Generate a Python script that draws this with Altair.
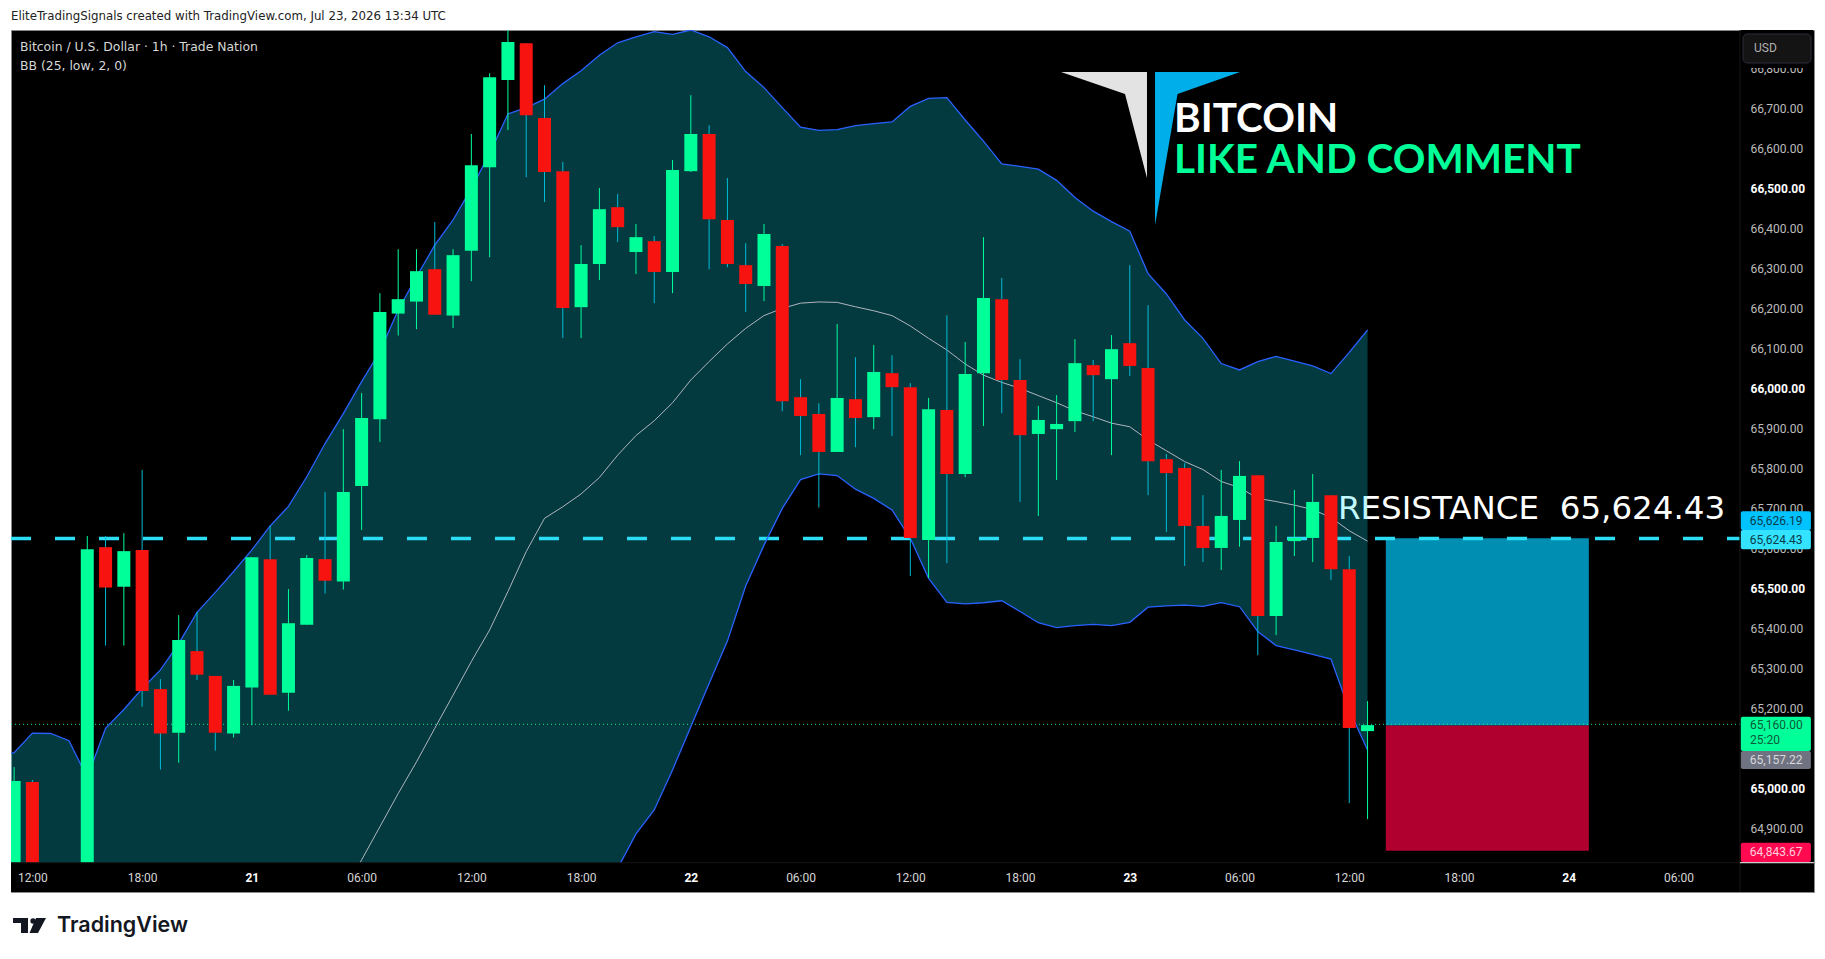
import altair as alt
import pandas as pd

# hours counted from Jul 20 12:00
hours = [-1, 0] + list(range(3, 74))
opens = [64600, 65016, 64520, 65603, 65504, 65596, 65248, 65139, 65343, 65281,
         65137, 65252, 65573, 65239, 65409, 65573, 65517, 65756, 65923, 66187,
         66217, 66298, 66182, 66344, 66553, 66771, 66863, 66676, 66543, 66203,
         66311, 66453, 66341, 66368, 66291, 66543, 66636, 66421, 66308, 66256,
         66356, 65978, 65936, 65841, 65973, 65928, 66038, 66003, 65621, 65946,
         65786, 66038, 66223, 66021, 65886, 65898, 65918, 66058, 66023, 66113,
         66051, 65823, 65801, 65656, 65601, 65671, 65783, 65431, 65618, 65626,
         65733, 65548, 65143]
highs = [65053, 65021, 65631, 65631, 65638, 65796, 65273, 65433, 65441, 65281,
         65271, 65578, 65656, 65498, 65583, 65741, 65898, 65988, 66238, 66348,
         66348, 66416, 66348, 66636, 66788, 66900, 66863, 66758, 66566, 66358,
         66501, 66486, 66411, 66381, 66571, 66733, 66658, 66526, 66363, 66411,
         66361, 66023, 65963, 66161, 66078, 66108, 66083, 66013, 65976, 66183,
         66116, 66378, 66276, 66073, 65956, 65983, 66123, 66071, 66133, 66308,
         66208, 65836, 65813, 65733, 65796, 65818, 65783, 65656, 65746, 65786,
         65733, 65581, 65218]
lows = [64550, 64450, 64480, 65357, 65357, 65204, 65047, 65064, 65271, 65094,
        65127, 65158, 65234, 65194, 65409, 65487, 65497, 65646, 65866, 66132,
        66148, 66184, 66151, 66268, 66328, 66646, 66528, 66466, 66126, 66126,
        66271, 66366, 66286, 66213, 66238, 66541, 66298, 66303, 66191, 66218,
        65943, 65833, 65702, 65841, 65853, 65898, 65881, 65531, 65526, 65563,
        65778, 65906, 65938, 65716, 65681, 65771, 65891, 65918, 65833, 66031,
        65733, 65641, 65556, 65566, 65546, 65604, 65333, 65383, 65581, 65566,
        65521, 64963, 64923]
closes = [65018, 64500, 65598, 65502, 65593, 65243, 65137, 65371, 65284, 65139,
          65256, 65578, 65234, 65413, 65576, 65519, 65741, 65926, 66191, 66223,
          66293, 66184, 66333, 66558, 66778, 66866, 66683, 66541, 66201, 66311,
          66448, 66403, 66378, 66291, 66546, 66636, 66423, 66311, 66261, 66386,
          65968, 65931, 65841, 65976, 65926, 66041, 66003, 65626, 65948, 65786,
          66036, 66226, 66021, 65883, 65921, 65911, 66063, 66033, 66098, 66056,
          65818, 65788, 65656, 65601, 65681, 65781, 65431, 65616, 65626, 65716,
          65548, 65151, 65158]

# Bollinger bands, hour -2 to 73 (lower is below the chart until hour 32)
bb_hours = list(range(-2, 74))
bb_upper = [65079, 65089, 65138, 65137, 65119, 65027, 65150, 65197, 65249, 65296,
            65362, 65440, 65490, 65542, 65596, 65656, 65705, 65779, 65862, 65937,
            66017, 66092, 66196, 66279, 66358, 66421, 66500, 66587, 66686, 66702,
            66723, 66762, 66794, 66833, 66864, 66879, 66892, 66885, 66896, 66879,
            66852, 66792, 66752, 66702, 66653, 66645, 66647, 66657, 66662, 66666,
            66705, 66725, 66727, 66671, 66618, 66561, 66555, 66548, 66520, 66477,
            66443, 66417, 66393, 66287, 66236, 66171, 66125, 66062, 66046, 66067,
            66080, 66068, 66056, 66037, 66090, 66146]
bb_lower = [64500, 64500, 64500, 64500, 64500, 64500, 64500, 64500, 64500, 64500,
            64500, 64500, 64500, 64500, 64500, 64500, 64500, 64500, 64500, 64500,
            64500, 64500, 64500, 64500, 64500, 64500, 64500, 64500, 64500, 64500,
            64500, 64500, 64604, 64729, 64800, 64886, 64946, 65046, 65154, 65262,
            65368, 65506, 65608, 65700, 65772, 65786, 65782, 65748, 65725, 65696,
            65625, 65525, 65465, 65461, 65464, 65469, 65442, 65414, 65402, 65407,
            65410, 65407, 65415, 65453, 65456, 65458, 65455, 65464, 65454, 65392,
            65357, 65346, 65335, 65323, 65196, 65096]
basis_hours = list(range(17, 74))
bb_basis = [64737, 64821, 64904, 64987, 65066, 65150, 65233, 65317, 65396, 65492,
            65592, 65675, 65704, 65736, 65777, 65833, 65882, 65919, 65964, 66021,
            66067, 66111, 66150, 66182, 66200, 66213, 66216, 66215, 66204, 66194,
            66182, 66156, 66125, 66096, 66061, 66033, 66015, 66000, 65982, 65964,
            65944, 65929, 65913, 65904, 65871, 65844, 65817, 65797, 65767, 65752,
            65725, 65717, 65708, 65697, 65677, 65644, 65618]

resistance = 65624.43
last_price = 65160
entry = 65157.22
stop = 64843.67
box_start, box_end = 74, 85.1

price_ticks = [64900, 65000, 65200, 65300, 65400, 65500, 65600, 65700, 65800,
               65900, 66000, 66100, 66200, 66300, 66400, 66500, 66600, 66700, 66800]
time_ticks = [0, 6, 12, 18, 24, 30, 36, 42, 48, 54, 60, 66, 72, 78, 84, 90]
time_labels = ["12:00", "18:00", "21", "06:00", "12:00", "18:00", "22", "06:00",
               "12:00", "18:00", "23", "06:00", "12:00", "18:00", "24", "06:00"]

# price scale tags: label, bottom, top, fill, text colour
tag_labels = ["65,626.19", "65,624.43", "65,157.22", "64,843.67"]
tag_bottoms = [65646, 65598, 65048, 64816]
tag_tops = [65693, 65646, 65093, 64864]
tag_fills = ["#00C3FF", "#33E3FF", "#6F7280", "#FF0A50"]
tag_text = ["#0B3B4A", "#0B3B4A", "#D8D8DC", "#FFD0DC"]

# full frame runs from these hour / price limits
x_min, x_max = -1.17, 97.41
y_min, y_max = 64740.75, 66896
x_axis_edge = 93.36
y_axis_edge = 64814

GREEN = "#00FF99"
RED = "#F7130F"
FONT = "Roboto"
TEXT_FONT = "DejaVu Sans"

candles = pd.DataFrame({"h": hours, "o": opens, "hi": highs, "lo": lows, "c": closes})
candles["body"] = [GREEN if c >= o else RED for o, c in zip(opens, closes)]
candles["wick"] = [GREEN if c >= o else "#00BCD4" for o, c in zip(opens, closes)]
bands = pd.DataFrame({"h": bb_hours, "up": bb_upper, "low": bb_lower})
basis = pd.DataFrame({"h": basis_hours, "mid": bb_basis})
tags = pd.DataFrame({"t": tag_labels, "lo": tag_bottoms, "hi": tag_tops,
                     "fill": tag_fills, "ink": tag_text})
tags["mid"] = (tags["lo"] + tags["hi"]) / 2
tags["x1"] = 93.41
tags["x2"] = 97.24
tags["tx"] = 93.9

# padding=0: bars would otherwise inset the continuous x range
x_scale = alt.Scale(domain=[x_min, x_max], nice=False, zero=False, padding=0)
y_scale = alt.Scale(domain=[y_min, y_max], nice=False, zero=False)
label_list = "[" + ",".join(f"'{s}'" for s in time_labels) + "]"
x_axis = alt.Axis(values=time_ticks, orient="bottom", offset=-29, zindex=1,
                  grid=False, ticks=False, domain=False, title=None,
                  labelPadding=9, labelFont=FONT, labelFontSize=12, labelOverlap=False,
                  labelExpr=f"{label_list}[datum.value / 6]",
                  labelColor=alt.expr("datum.value % 24 == 12 ? '#FFFFFF' : '#D6D6D6'"),
                  labelFontWeight=alt.expr("datum.value % 24 == 12 ? 'bold' : 'normal'"))
y_axis = alt.Axis(values=price_ticks, orient="right", offset=-74, zindex=0,
                  grid=False, ticks=False, domain=False, title=None, format=",.2f",
                  labelPadding=10, labelFont=FONT, labelFontSize=12, labelOverlap=False,
                  labelColor=alt.expr("datum.value % 500 == 0 ? '#FFFFFF' : '#BDBDBD'"),
                  labelFontWeight=alt.expr("datum.value % 500 == 0 ? 'bold' : 'normal'"))


def X(field):
    return alt.X(field, type="quantitative", scale=x_scale, axis=x_axis)


def Y(field):
    return alt.Y(field, type="quantitative", scale=y_scale, axis=y_axis)


def box(x1, x2, y1, y2, color, **kw):
    df = pd.DataFrame({"a": [x1], "b": [x2], "c": [y1], "d": [y2]})
    return alt.Chart(df).mark_rect(color=color, **kw).encode(
        x=X("a"), x2="b", y=Y("c"), y2="d")


def hline(x1, x2, y, color, **kw):
    df = pd.DataFrame({"a": [x1], "b": [x2], "c": [y]})
    return alt.Chart(df).mark_rule(color=color, **kw).encode(x=X("a"), x2="b", y=Y("c"))


def note(text, px, py, size, color, weight="normal", font=FONT, align="left"):
    # px, py are page pixels, shifted to the frame corner
    return alt.Chart(pd.DataFrame({"t": [text]})).mark_text(
        align=align, baseline="middle", font=font, fontSize=size,
        fontWeight=weight, color=color
    ).encode(text="t:N", x=alt.value(px - 11), y=alt.value(py - 30))


def wedge(xs, tops, bottoms, color):
    df = pd.DataFrame({"a": xs, "c": tops, "d": bottoms})
    return alt.Chart(df).mark_area(color=color, opacity=1, interpolate="linear").encode(
        x=X("a"), y=Y("c"), y2="d")


resistance_text = note("RESISTANCE\u00a0\u00a065,624.43", 1338, 509, 32.5, "#FFFFFF", font=TEXT_FONT)
band = alt.Chart(bands).mark_area(color="#08E8FF", opacity=0.25, clip=True).encode(
    x=X("h"), y=Y("up"), y2="low")
upper_line = alt.Chart(bands).mark_line(color="#2962FF", strokeWidth=1.3, clip=True).encode(
    x=X("h"), y=Y("up"))
lower_line = alt.Chart(bands).mark_line(color="#2962FF", strokeWidth=1.3, clip=True).encode(
    x=X("h"), y=Y("low"))
basis_line = alt.Chart(basis).mark_line(color="#B2B5BE", strokeWidth=1, clip=True).encode(
    x=X("h"), y=Y("mid"))

target_box = box(box_start, box_end, entry, resistance + 1, "#008FB3")
stop_box = box(box_start, box_end, stop, entry, "#B00030")

res_line = hline(x_min, x_axis_edge, resistance, "#2BDDF5", strokeWidth=3.5, strokeDash=[20, 24])
last_line = hline(x_min, x_axis_edge, last_price, GREEN, strokeWidth=1, strokeDash=[1, 3], opacity=0.9)

wicks = alt.Chart(candles).mark_rule(strokeWidth=1, clip=True).encode(
    x=X("h"), y=Y("lo"), y2="hi", color=alt.Color("wick:N", scale=None))
bodies = alt.Chart(candles).mark_bar(size=13, orient="vertical", clip=True).encode(
    x=X("h"), y=Y("o"), y2="c", color=alt.Color("body:N", scale=None))

time_strip = box(x_min, x_max, y_min, y_axis_edge, "#000000")
time_sep = hline(x_min, x_axis_edge, y_axis_edge, "#161616", strokeWidth=1)
price_sep = alt.Chart(pd.DataFrame({"a": [x_axis_edge], "c": [y_min], "d": [y_max]})).mark_rule(
    color="#161616", strokeWidth=1).encode(x=X("a"), y=Y("c"), y2="d")
corner_line = hline(x_axis_edge, x_max, y_axis_edge, "#FFFFFF", strokeWidth=1)

tag_rects = alt.Chart(tags).mark_bar(cornerRadius=2, orient="vertical").encode(
    x=X("x1"), x2="x2", y=Y("lo"), y2="hi", color=alt.Color("fill:N", scale=None))
tag_text_layer = alt.Chart(tags).mark_text(align="left", font=FONT, fontSize=12).encode(
    x=X("tx"), y=Y("mid"), text="t:N", color=alt.Color("ink:N", scale=None))

last_tag = box(93.41, 97.24, 65093, 65179, GREEN, cornerRadius=2)

# the USD button sits over the top of the price scale
usd_cover = box(x_axis_edge + 0.05, x_max - 0.05, 66801, y_max, "#000000")
usd_box = alt.Chart(pd.DataFrame({"t": ["USD"]})).mark_rect(
    fill="#141414", stroke="#2A2E39", cornerRadius=4
).encode(x=alt.value(1743 - 11), x2=alt.value(1811 - 11), y=alt.value(34 - 30), y2=alt.value(63 - 30))

# TradingView mark under the chart
logo_bar = alt.Chart(pd.DataFrame({"t": [1]})).mark_rect(color="#131722").encode(
    x=alt.value(13 - 11), x2=alt.value(28 - 11), y=alt.value(918 - 30), y2=alt.value(923 - 30))
logo_stem = alt.Chart(pd.DataFrame({"t": [1]})).mark_rect(color="#131722").encode(
    x=alt.value(21 - 11), x2=alt.value(28 - 11), y=alt.value(918 - 30), y2=alt.value(933 - 30))
logo_dot = alt.Chart(pd.DataFrame({"t": [1]})).mark_point(
    filled=True, color="#131722", size=28, opacity=1
).encode(x=alt.value(33 - 11), y=alt.value(921 - 30))
logo_leg = wedge([-0.159, 0.197, 0.306, 0.744], [64638, 64676, 64676, 64676],
                 [64638, 64638, 64638, 64676], "#131722")

grey_wing = wedge([56.24, 59.74, 60.94], [66791, 66791, 66791], [66791, 66736, 66526], "#E3E3E3")
blue_wing = wedge([61.38, 62.61, 66.03], [66791, 66791, 66791], [66408, 66736, 66791], "#00AEEA")

chart = alt.layer(
    resistance_text, band, target_box, stop_box, res_line, last_line,
    upper_line, lower_line, basis_line, wicks, bodies, time_strip, time_sep, price_sep, corner_line,
    usd_cover, tag_rects, tag_text_layer, last_tag,
    note("65,160.00", 1750, 725, 12, "#0B5A3A"),
    note("25:20", 1750, 740, 12, "#0B5A3A"),
    usd_box,
    note("USD", 1754, 48, 12, "#B0B0B0"),
    grey_wing, blue_wing,
    note("BITCOIN", 1174, 120, 40.5, "#FFFFFF", "bold", "Lato"),
    note("LIKE AND COMMENT", 1174, 161, 40.5, GREEN, "bold", "Lato"),
    note("Bitcoin / U.S. Dollar \u00b7 1h \u00b7 Trade Nation", 20, 47, 12.4, "#D6D6D6", font=TEXT_FONT),
    note("BB (25, low, 2, 0)", 20, 66, 12.4, "#D6D6D6", font=TEXT_FONT),
    note("EliteTradingSignals created with TradingView.com, Jul 23, 2026 13:34 UTC",
         11, 16, 11.8, "#222222", font=TEXT_FONT),
    logo_bar, logo_stem, logo_dot, logo_leg,
    note("TradingView", 57, 926, 21.5, "#131722", 600, "Inter"),
).properties(
    width=1803,
    height=862,
    padding={"left": 3, "top": 22, "right": 3, "bottom": 50},
    autosize=alt.AutoSizeParams(type="none"),
    background="#FFFFFF",
).configure_view(
    fill="#000000",
    stroke="#8A8A8A",
    strokeWidth=1,
)

chart.save("out.html", embed_options={"renderer": "svg", "actions": False})
